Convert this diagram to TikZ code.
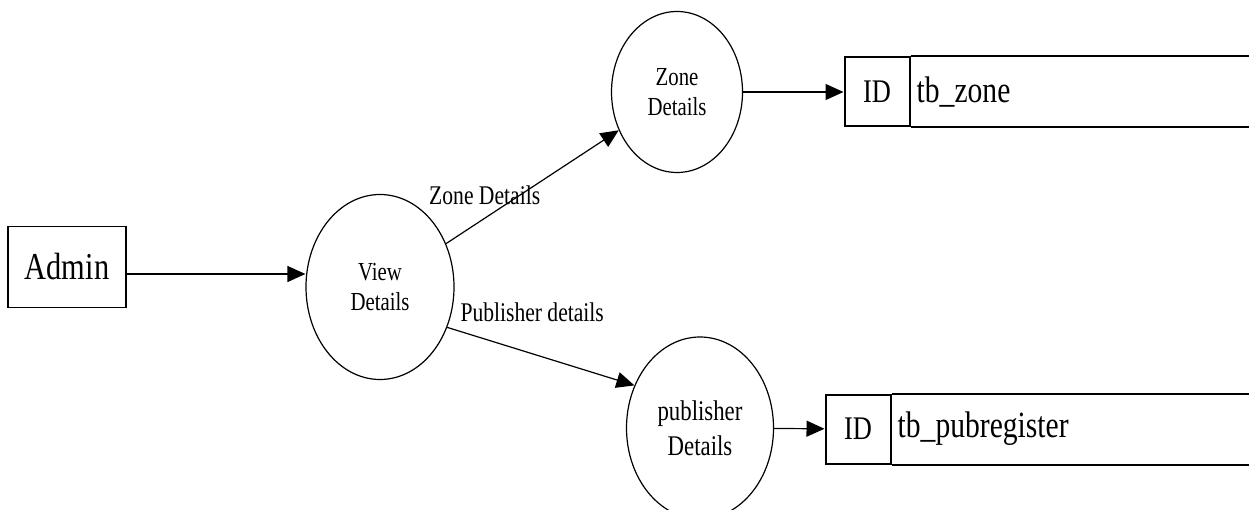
\documentclass[tikz,border=0pt]{standalone}
\usepackage{fontspec}
\setmainfont{Liberation Serif}[FakeStretch=0.8]
\usepackage{tikz}
\usetikzlibrary{arrows.meta,shapes.geometric,positioning}
\tikzstyle{arrow} = [line width=1.2bp,-{Triangle[length=18bp,width=16bp]}]
\tikzstyle{entity} = [rectangle, draw, line width=1.2bp, minimum width=118bp, minimum height=81bp, inner sep=0pt, font=\fontsize{38bp}{40bp}\selectfont]
\tikzstyle{process} = [ellipse, draw, line width=1.2bp, inner sep=0pt, align=center, font=\fontsize{26bp}{30bp}\selectfont]
\tikzstyle{idbox} = [rectangle, draw, line width=2bp, minimum width=65bp, minimum height=69bp, inner sep=0pt, font=\fontsize{33bp}{34bp}\selectfont]
\tikzstyle{tabname} = [inner sep=6bp, font=\fontsize{37bp}{38bp}\selectfont]
\tikzstyle{lbl} = [inner sep=0pt, font=\fontsize{27bp}{28bp}\selectfont]

\begin{document}
\begin{tikzpicture}[x=1bp, y=-1bp]
\useasboundingbox (0,0) rectangle (1249,510);

% External entity
\node (admin) [entity] at (67,267) {Admin};

% Processes
\node (view) [process, minimum width=148bp, minimum height=185bp, right of=admin, node distance=313bp, yshift=-20bp] {View\\Details};
\node (zone) [process, minimum width=131bp, minimum height=161bp, right of=view, node distance=297bp, yshift=195bp] {Zone\\Details};
\node (pub) [process, minimum width=147bp, minimum height=182bp, right of=view, node distance=320bp, yshift=-141bp, font=\fontsize{28.5bp}{35bp}\selectfont] {publisher\\Details};

% Data stores
\coordinate (edge) at (1252,0);
\node (zoneid) [idbox, right of=zone, node distance=200bp] {ID};
\node (zonetab) [tabname, right=0pt of zoneid] {tb\_zone};
\node (pubid) [idbox, right of=pub, node distance=158bp, yshift=-1bp] {ID};
\node (pubtab) [tabname, right=0pt of pubid] {tb\_pubregister};
\draw[line width=2bp] (zoneid.north east) -- (zoneid.north east -| edge);
\draw[line width=2bp] (zoneid.south east) -- (zoneid.south east -| edge);
\draw[line width=2bp] (pubid.north east) -- (pubid.north east -| edge);
\draw[line width=2bp] (pubid.south east) -- (pubid.south east -| edge);

% Data flows
\draw[arrow] ([yshift=-7bp]admin.east) -- ([yshift=-7bp]admin.east -| view.west);
\draw[arrow] (view) -- node[lbl, pos=0.224, yshift=23bp] {Zone Details} (zone);
\draw[arrow] (view.-31) -- node[lbl, pos=0.454, yshift=41bp] {Publisher details} (pub.147);
\draw[arrow] (zone) -- (zoneid);
\draw[arrow] (pub) -- (pubid);
\end{tikzpicture}
\end{document}
